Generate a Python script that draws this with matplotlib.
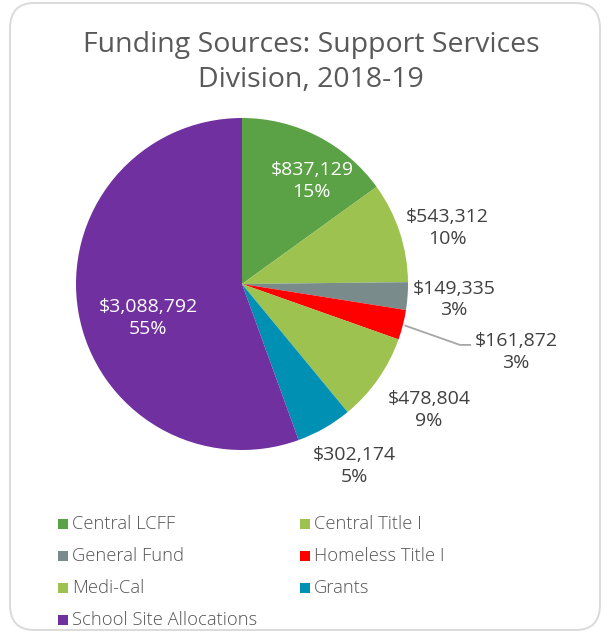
import numpy as np
import matplotlib
matplotlib.use("Agg")
import matplotlib.pyplot as plt
from matplotlib.patches import FancyBboxPatch, Rectangle

plt.rcParams['font.family'] = ['Open Sans', 'DejaVu Sans']

# Funding sources and amounts
categories = ["Central LCFF", "Central Title I", "General Fund", "Homeless Title I",
              "Medi-Cal", "Grants", "School Site Allocations"]
amounts = [837129, 543312, 149335, 161872, 478804, 302174, 3088792]
percents = [15, 10, 3, 3, 9, 5, 55]
colors = ["#5BA145", "#9DC24F", "#7A8B8C", "#FF0000", "#9DC24F", "#0090B4", "#7030A0"]

W, H = 608, 633
fig = plt.figure(figsize=(W / 100, H / 100), dpi=100)

# rounded card outline
card = FancyBboxPatch((10 / W, 3 / H), 590 / W, 627 / H,
                      boxstyle="round,pad=0,rounding_size=0.04",
                      transform=fig.transFigure, fill=False,
                      edgecolor="#DADADA", linewidth=1.4)
fig.add_artist(card)

title_kw = dict(ha="center", va="center", fontsize=20.5, color="#595959")
fig.text(311 / W, 1 - 45 / H, "Funding Sources: Support Services", **title_kw)
fig.text(311 / W, 1 - 80 / H, "Division, 2018-19", **title_kw)

# pie axes: centre (242, 284) px, radius 166 px
r_px = 166
ax = fig.add_axes([(242 - r_px) / W, 1 - (284 + r_px) / H, 2 * r_px / W, 2 * r_px / H])
wedges, _ = ax.pie(amounts, colors=colors, startangle=90, counterclock=False,
                   radius=1.0, wedgeprops=dict(linewidth=0))
ax.set_xlim(-1, 1)
ax.set_ylim(-1, 1)
ax.set_aspect("equal")
ax.axis("off")

# label placement per slice: (distance from centre, angle offset in degrees)
placement = [(0.75, -7), (1.28, -3), (1.28, 0), (None, 0), (1.36, 1), (1.29, 2), (0.60, 10)]
text_colors = ["white", "#404040", "#404040", "#404040", "#404040", "#404040", "white"]
label_kw = dict(fontsize=14, linespacing=1.25, clip_on=False)

for w, amt, pct, (dist, dang), tc in zip(wedges, amounts, percents, placement, text_colors):
    mid = np.deg2rad((w.theta1 + w.theta2) / 2)
    label = f"${amt:,}\n{pct}%"
    if dist is None:
        # elbow leader line to the outside label
        x0, y0 = np.cos(mid), np.sin(mid)
        ax.plot([x0 + 0.01, 1.313, 1.38], [y0 - 0.003, -0.367, -0.367],
                color="#A6A6A6", lw=1.3, clip_on=False, solid_capstyle="butt")
        ax.text(1.40, -0.41, label, ha="left", va="center", color=tc,
                multialignment="center", **label_kw)
    else:
        a = mid + np.deg2rad(dang)
        ax.text(dist * np.cos(a), dist * np.sin(a), label, ha="center", va="center",
                color=tc, **label_kw)

# legend in two columns
row_y = [524, 556, 588, 620]
col_x = [58, 300]
sq = 10
for i, (name, c) in enumerate(zip(categories, colors)):
    col, row = i % 2, i // 2
    x, y = col_x[col], row_y[row]
    fig.add_artist(Rectangle((x / W, 1 - (y + sq / 2) / H), sq / W, sq / H,
                             transform=fig.transFigure, facecolor=c, edgecolor="none"))
    fig.text((x + sq + 4) / W, 1 - y / H, name, ha="left", va="center",
             fontsize=13.2, color="#555555", fontweight="light")

fig.savefig("out.png", dpi=100)
